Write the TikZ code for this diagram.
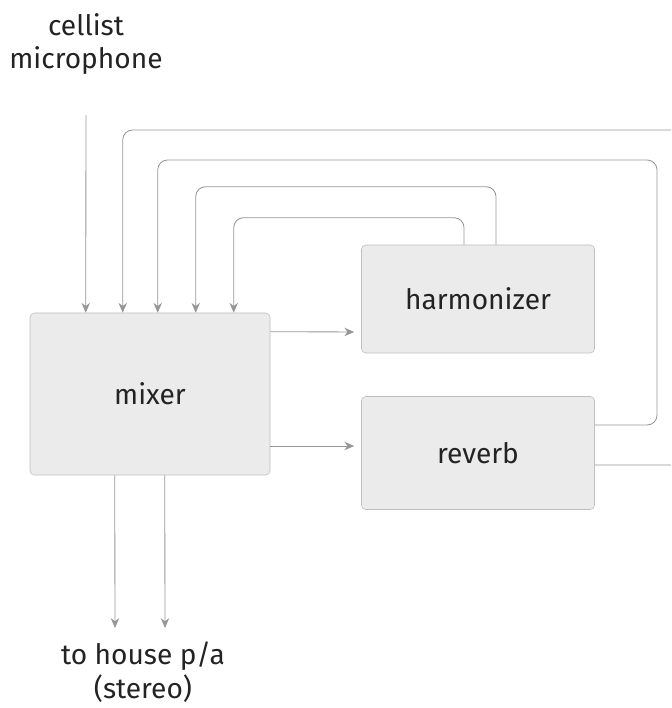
\documentclass[tikz,border=0pt]{standalone}
\usepackage{fontspec}
\setmainfont{Fira Sans}
\definecolor{fxline}{RGB}{150,150,150}
\definecolor{fxfill}{RGB}{235,235,235}
\definecolor{fxedge}{RGB}{190,190,190}
\definecolor{fxtext}{RGB}{35,35,35}
\usetikzlibrary{arrows.meta,positioning,calc}

\begin{document}
\begin{tikzpicture}[
  fxbox/.style={draw=fxedge, fill=fxfill, rounded corners=3pt, text=fxtext, font=\fontsize{20}{24}\selectfont},
  lbl/.style={align=center, inner sep=0pt, text=fxtext, font=\fontsize{20}{24}\selectfont},
  sigline/.style={-{Stealth[length=7pt,width=6pt]}, fxline, line width=0.6pt},
  fbline/.style={sigline, rounded corners=7pt}
]
  \clip (0,0) rectangle (16.775,17.7);
  % Units
  \node[fxbox, minimum width=6cm, minimum height=4.05cm] (mixer) at (3.75,7.85) {mixer};
  \node[fxbox, minimum width=5.825cm, minimum height=2.7cm] (harm) at (11.95,10.225) {harmonizer};
  \node[fxbox, minimum width=5.825cm, minimum height=2.825cm] (reverb) at (11.95,6.375) {reverb};
  % Labels
  \node[lbl] (mic) at (2.15,16.6) {cellist\\microphone};
  \node[lbl] (house) at (3.575,0.9) {to house p/a\\(stereo)};
  % Mixer inputs
  \coordinate (in1) at ($(mixer.north west)+(1.4,0)$);
  \coordinate (in2) at ($(mixer.north west)+(2.325,0)$);
  \coordinate (in3) at ($(mixer.north west)+(3.2,0)$);
  \coordinate (in4) at ($(mixer.north west)+(4.15,0)$);
  \coordinate (in5) at ($(mixer.north west)+(5.1,0)$);
  \draw[sigline] ([yshift=-1cm]mic.south) -- (in1);
  % Returns
  \draw[fbline] ([yshift=-0.3cm]reverb.east) -| (17.2,14.45) -| (in2);
  \draw[fbline] ([yshift=0.7cm]reverb.east) -| (16.425,13.7) -| (in3);
  \draw[fbline] ([xshift=0.45cm]harm.north) -- ++(0,1.45) -| (in4);
  \draw[fbline] ([xshift=-0.35cm]harm.north) -- ++(0,0.675) -| (in5);
  % Sends
  \draw[sigline, shorten >=5pt] ([yshift=-0.475cm]mixer.north east) -- ([yshift=-0.825cm]harm.west);
  \draw[sigline, shorten >=5pt] ([yshift=-1.3cm]mixer.east) -- ([yshift=0.175cm]reverb.west);
  % Outputs
  \coordinate (out1) at (2.875,2.0);
  \coordinate (out2) at (4.125,2.0);
  \draw[sigline] ($(mixer.south west)+(2.125,0)$) -- (out1);
  \draw[sigline] ($(mixer.south west)+(3.375,0)$) -- (out2);
\end{tikzpicture}
\end{document}
